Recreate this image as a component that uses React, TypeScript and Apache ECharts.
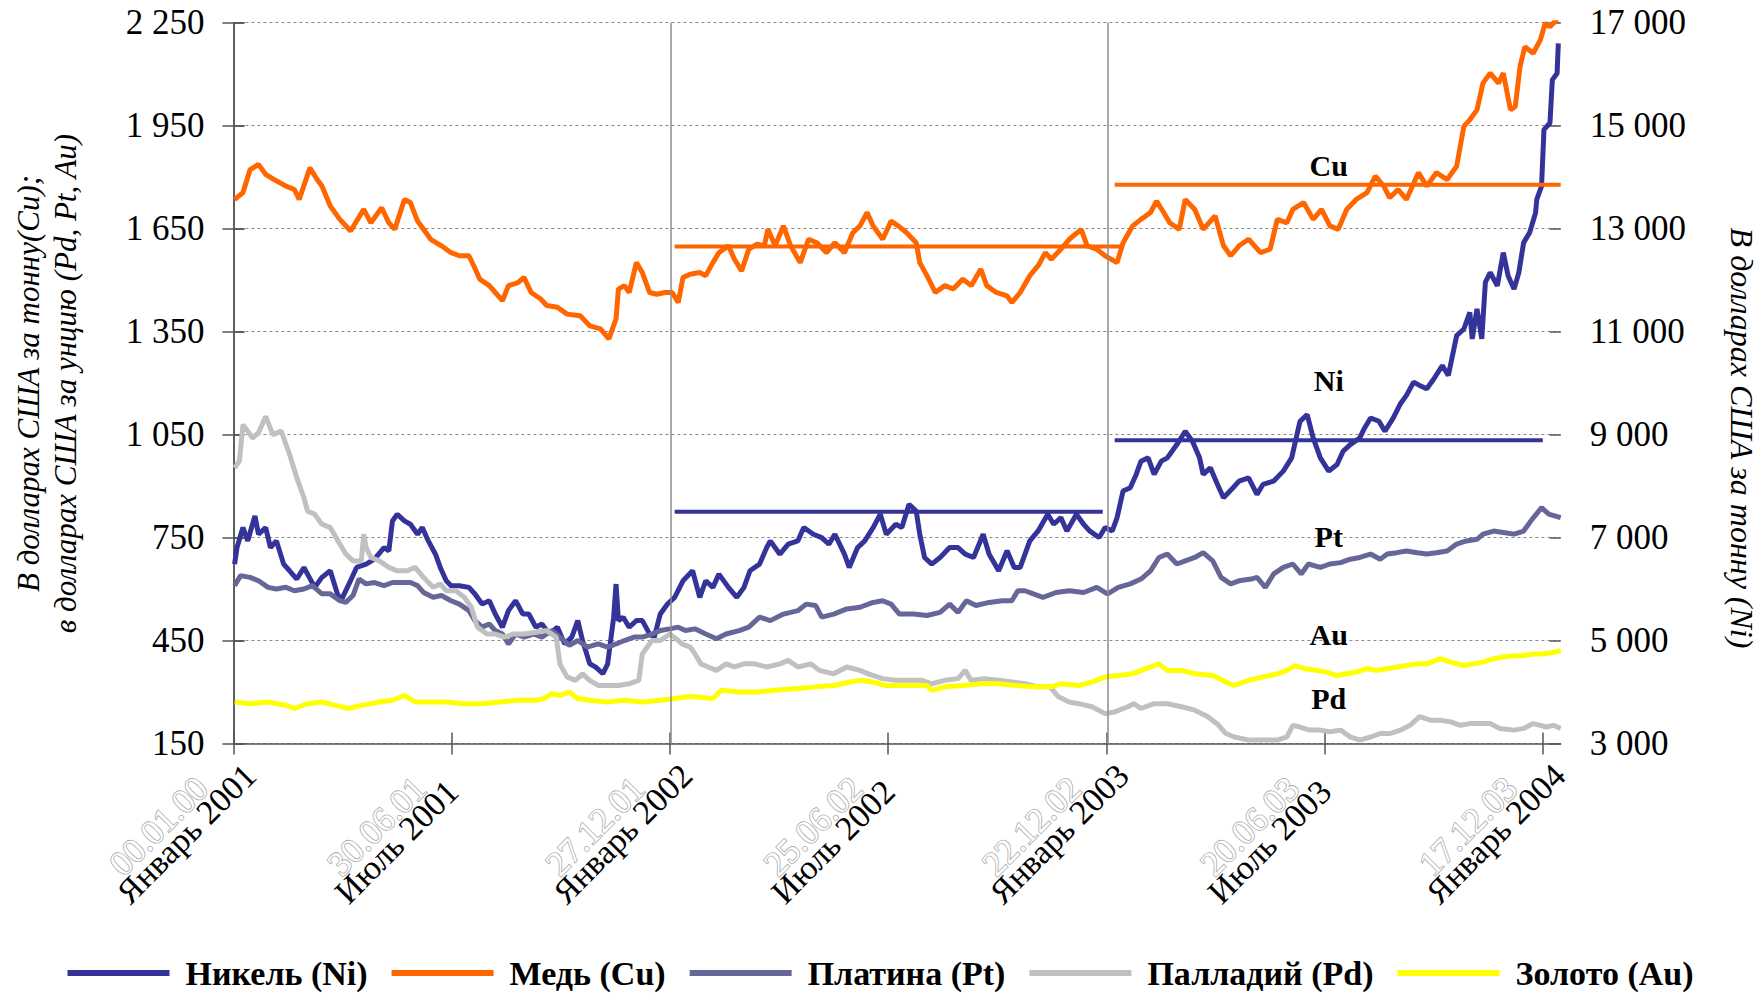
import React, { useEffect, useRef } from 'react';
import * as echarts from 'echarts';

// x = days since 1 Jan 2001
const tickDays = [0, 182.5, 365, 547.5, 730, 912.5, 1095];
const tickLabels = ['Январь 2001', 'Июль 2001', 'Январь 2002', 'Июль 2002', 'Январь 2003', 'Июль 2003', 'Январь 2004'];
const excelDateLabels = ['00.01.00', '30.06.01', '27.12.01', '25.06.02', '22.12.02', '20.06.03', '17.12.03'];
const yearBoundaryDays = [366, 731];
const leftTicks = [150, 2250, 300];
const rightTicks = [3000, 17000, 2000];

const nickel: [number, number][] = [[1,6484],[3,6806],[8,7194],[12,6935],[18,7419],[21,7065],[27,7194],[31,6806],[36,6935],[42,6484],[47,6355],[53,6194],[59,6419],[62,6290],[68,6032],[74,6226],[81,6355],[87,5903],[90,5774],[96,6065],[103,6419],[111,6484],[118,6581],[126,6806],[130,6742],[133,7323],[137,7452],[143,7323],[148,7258],[154,7065],[158,7194],[163,6935],[169,6677],[173,6419],[178,6161],[182,6065],[189,6065],[197,6032],[202,5903],[208,5710],[214,5774],[219,5516],[225,5258],[230,5581],[236,5774],[242,5516],[247,5516],[253,5258],[258,5323],[264,5129],[271,5258],[277,4935],[283,5065],[288,5387],[292,4994],[298,4548],[303,4484],[309,4355],[313,4548],[318,5452],[320,6097],[322,5387],[326,5452],[331,5258],[337,5387],[342,5387],[348,5129],[352,5065],[357,5516],[363,5710],[369,5839],[376,6161],[384,6355],[390,5839],[395,6161],[401,6032],[406,6290],[414,6032],[421,5839],[427,6032],[432,6355],[440,6484],[446,6806],[449,6935],[457,6677],[464,6871],[472,6935],[477,7194],[485,7065],[492,7000],[498,6871],[503,7065],[511,6677],[515,6419],[522,6806],[528,6935],[535,7194],[541,7452],[546,7065],[554,7258],[559,7194],[565,7645],[571,7516],[574,7065],[578,6613],[584,6484],[591,6613],[599,6806],[606,6806],[612,6677],[619,6613],[627,7065],[632,6677],[640,6355],[647,6742],[653,6419],[658,6419],[666,6935],[673,7129],[681,7452],[686,7258],[692,7387],[697,7129],[705,7452],[711,7258],[716,7129],[724,7000],[729,7194],[735,7129],[739,7387],[744,7903],[750,7968],[755,8226],[759,8484],[765,8548],[770,8226],[776,8484],[781,8548],[789,8806],[796,9065],[802,8871],[808,8548],[811,8226],[817,8355],[823,8032],[828,7774],[836,7968],[841,8097],[849,8161],[856,7839],[861,8032],[870,8097],[878,8290],[885,8548],[892,9258],[898,9387],[903,8935],[909,8548],[916,8290],[923,8419],[928,8677],[934,8806],[942,8935],[946,9129],[951,9323],[958,9258],[963,9065],[970,9323],[976,9600],[981,9761],[987,10019],[992,9955],[998,9890],[1004,10084],[1011,10342],[1016,10148],[1023,10922],[1029,11051],[1034,11374],[1036,10858],[1040,11439],[1044,10858],[1047,11955],[1051,12148],[1057,11890],[1062,12535],[1066,12084],[1071,11826],[1075,12148],[1079,12729],[1084,12922],[1089,13310],[1090,13568],[1094,13826],[1096,14922],[1101,15051],[1103,15890],[1107,16019],[1108,16600]];

const copper: [number, number][] = [[1,1735],[8,1755],[14,1822],[21,1837],[27,1808],[34,1793],[44,1774],[51,1764],[55,1735],[64,1827],[70,1793],[74,1774],[81,1716],[89,1677],[98,1643],[103,1672],[109,1706],[115,1667],[124,1711],[130,1667],[135,1648],[143,1735],[148,1726],[154,1672],[159,1648],[165,1619],[174,1600],[182,1580],[189,1571],[197,1571],[201,1542],[206,1503],[214,1484],[219,1464],[225,1440],[230,1484],[238,1493],[243,1508],[249,1464],[257,1445],[262,1426],[271,1421],[279,1401],[290,1396],[298,1367],[307,1358],[314,1329],[320,1387],[322,1474],[327,1484],[331,1464],[337,1551],[342,1522],[348,1464],[354,1459],[361,1464],[367,1464],[372,1435],[376,1508],[382,1517],[390,1522],[395,1513],[401,1551],[406,1580],[414,1600],[419,1561],[425,1527],[431,1590],[438,1605],[444,1600],[447,1648],[453,1600],[460,1658],[466,1600],[474,1551],[481,1619],[488,1609],[496,1580],[503,1609],[511,1580],[518,1638],[524,1658],[530,1697],[535,1658],[543,1619],[550,1672],[556,1658],[563,1638],[571,1609],[574,1551],[580,1513],[587,1464],[595,1484],[602,1474],[610,1503],[617,1484],[625,1532],[630,1484],[638,1464],[647,1454],[651,1435],[658,1464],[666,1513],[673,1542],[679,1580],[684,1561],[692,1590],[699,1619],[709,1648],[714,1600],[722,1590],[729,1571],[739,1551],[744,1609],[752,1658],[759,1677],[767,1697],[772,1730],[778,1697],[783,1667],[791,1648],[796,1735],[804,1706],[811,1648],[821,1687],[828,1600],[834,1571],[841,1600],[849,1619],[859,1580],[867,1590],[873,1677],[881,1667],[886,1706],[895,1726],[903,1677],[910,1706],[917,1658],[924,1648],[931,1706],[939,1735],[948,1755],[955,1803],[962,1774],[967,1740],[974,1764],[981,1735],[991,1813],[998,1774],[1006,1813],[1015,1793],[1023,1832],[1029,1948],[1034,1967],[1040,1996],[1045,2074],[1051,2103],[1058,2074],[1062,2103],[1068,1996],[1072,2006],[1076,2122],[1080,2180],[1087,2161],[1093,2200],[1097,2248],[1101,2238],[1107,2260]];

const platinum: [number, number][] = [[1,610],[6,639],[14,634],[21,624],[29,605],[36,600],[44,605],[51,595],[59,600],[66,610],[74,586],[81,586],[89,566],[94,561],[100,581],[105,629],[111,615],[118,619],[126,610],[133,619],[141,619],[148,619],[154,610],[159,590],[167,576],[174,581],[182,566],[189,556],[197,537],[202,508],[208,489],[214,498],[219,479],[225,469],[230,440],[236,469],[243,460],[251,469],[258,460],[266,479],[273,460],[281,436],[288,450],[296,431],[305,440],[313,431],[320,440],[327,450],[335,460],[342,460],[350,469],[357,479],[365,484],[372,489],[378,479],[386,484],[395,469],[404,455],[412,469],[423,479],[431,489],[440,518],[449,508],[460,527],[472,537],[479,556],[487,552],[492,518],[502,527],[513,542],[524,547],[535,561],[543,566],[550,556],[557,527],[569,527],[580,523],[591,532],[599,556],[606,532],[613,566],[621,552],[632,561],[643,566],[651,566],[656,595],[662,595],[669,586],[677,576],[688,590],[699,595],[711,590],[722,605],[731,586],[740,605],[750,615],[759,629],[767,653],[774,692],[781,702],[789,673],[796,682],[804,692],[811,706],[819,682],[826,634],[834,615],[841,624],[851,629],[856,634],[863,605],[870,644],[878,663],[886,673],[893,644],[899,673],[909,663],[917,673],[926,677],[934,687],[942,692],[951,702],[959,687],[965,702],[973,706],[981,711],[990,706],[998,702],[1006,706],[1015,711],[1023,731],[1031,740],[1040,745],[1045,760],[1054,769],[1062,765],[1071,760],[1079,769],[1086,803],[1094,837],[1100,818],[1105,813],[1110,808]];

const palladium: [number, number][] = [[1,953],[5,973],[8,1079],[12,1060],[16,1040],[21,1055],[27,1103],[33,1050],[40,1060],[47,992],[53,924],[59,866],[62,827],[68,818],[74,789],[81,779],[89,731],[94,702],[100,682],[107,682],[109,760],[111,721],[115,692],[122,682],[130,663],[137,653],[145,653],[152,663],[159,634],[167,605],[173,615],[178,595],[186,595],[193,576],[199,547],[204,489],[212,469],[219,469],[227,460],[234,469],[243,469],[253,474],[262,479],[270,460],[273,382],[279,344],[286,334],[292,353],[298,334],[305,319],[313,319],[322,319],[331,324],[339,334],[342,411],[350,450],[357,450],[365,469],[372,450],[375,440],[382,431],[386,411],[391,382],[397,373],[404,363],[412,382],[419,373],[427,382],[436,382],[446,373],[457,382],[464,392],[472,373],[483,382],[490,363],[502,353],[513,373],[524,363],[531,353],[543,339],[554,334],[565,334],[576,334],[584,324],[595,334],[606,339],[612,363],[617,334],[628,339],[640,334],[651,329],[662,324],[673,315],[683,315],[690,286],[699,271],[707,266],[718,257],[729,237],[737,242],[748,257],[753,266],[759,252],[770,266],[781,266],[793,257],[804,247],[815,228],[824,203],[830,179],[837,169],[849,160],[861,160],[873,160],[881,169],[886,203],[892,198],[900,189],[909,189],[917,184],[926,189],[934,169],[942,160],[951,169],[959,179],[967,179],[976,189],[984,203],[992,228],[1001,218],[1009,218],[1018,213],[1026,203],[1034,208],[1043,208],[1051,208],[1059,194],[1071,189],[1079,194],[1087,208],[1093,203],[1098,198],[1104,203],[1110,194]];

const gold: [number, number][] = [[1,271],[14,266],[29,271],[44,261],[51,252],[62,266],[74,271],[85,261],[96,252],[107,261],[122,271],[133,276],[143,290],[152,271],[167,271],[178,271],[193,266],[208,266],[223,271],[238,276],[253,276],[260,281],[266,295],[273,290],[281,300],[288,281],[298,276],[313,271],[327,276],[342,271],[357,276],[369,281],[380,286],[386,286],[401,281],[408,305],[423,300],[438,300],[453,305],[472,310],[487,315],[502,319],[516,329],[524,334],[535,329],[546,319],[557,319],[569,319],[580,319],[584,305],[595,315],[610,319],[625,324],[640,324],[655,319],[669,315],[684,315],[692,324],[707,319],[718,329],[729,344],[740,348],[752,353],[763,368],[774,382],[781,363],[793,363],[804,353],[819,348],[830,329],[837,319],[849,334],[861,344],[873,353],[881,363],[888,377],[896,368],[906,363],[914,358],[923,348],[931,353],[939,358],[948,368],[956,363],[965,368],[973,373],[981,377],[990,382],[998,382],[1009,397],[1018,387],[1029,377],[1037,382],[1045,387],[1054,397],[1062,402],[1071,406],[1079,406],[1087,411],[1096,411],[1104,416],[1110,421]];

// yearly average levels (horizontal segments)
const cuMean2002: [number, number][] = [[369, 1598], [742, 1598]];
const cuMean2003: [number, number][] = [[737, 1778], [1110, 1778]];
const niMean2002: [number, number][] = [[369, 7503], [727, 7503]];
const niMean2003: [number, number][] = [[737, 8890], [1095, 8890]];

// in-chart series tags: [text, day, value, yAxisIndex]
const seriesTags: [string, number, number, number][] = [
  ['Cu', 916, 1835, 0],
  ['Ni', 916, 10045, 1],
  ['Pt', 916, 752, 0],
  ['Au', 916, 467, 0],
  ['Pd', 916, 280, 0],
];

const names = ['Никель (Ni)', 'Медь (Cu)', 'Платина (Pt)', 'Палладий (Pd)', 'Золото (Au)'];
const colors = ['#333399', '#FF6600', '#666699', '#C0C0C0', '#FFFF00'];

const FONT = "'Liberation Serif', 'Times New Roman', serif";

const fmt = (v: number) => {
  if (v >= 1000) {
    const t = Math.floor(v / 1000);
    const r = String(v % 1000).padStart(3, '0');
    return `${t} ${r}`;
  }
  return String(v);
};

export default function App() {
  const ref = useRef<HTMLDivElement>(null);
  useEffect(() => {
    if (!ref.current) return;
    const chart = echarts.init(ref.current, null, { renderer: 'svg' });
    const axisColor = '#555555';
    const line = (name: string, data: [number, number][], color: string, yAxisIndex: number, width = 5, extra: any = {}) => ({
      type: 'line',
      name,
      data,
      yAxisIndex,
      xAxisIndex: 0,
      symbol: 'none',
      showSymbol: false,
      silent: true,
      lineStyle: { color, width },
      itemStyle: { color },
      emphasis: { disabled: true },
      ...extra,
    });
    const yBase = (pos: 'left' | 'right', t: number[], inside: boolean) => ({
      type: 'value',
      position: pos,
      min: t[0],
      max: t[1],
      interval: t[2],
      axisLine: { show: !inside, lineStyle: { color: axisColor, width: 1.5 } },
      axisTick: { show: true, inside, length: 11, lineStyle: { color: axisColor, width: 1.5 } },
      axisLabel: inside
        ? { show: false }
        : { show: true, formatter: (v: number) => fmt(v), fontFamily: FONT, fontSize: 35, color: '#000', margin: 29, padding: [10, 0, 0, 0] },
      splitLine: { show: false },
    });
    const yLeft: any = yBase('left', leftTicks, false);
    yLeft.splitLine = { show: true, lineStyle: { color: '#8a8a8a', width: 1, type: [3, 3] } };
    const xBase = (inside: boolean) => ({
      type: 'value',
      position: 'bottom',
      min: 0,
      max: 1110,
      axisLine: { show: !inside, lineStyle: { color: axisColor, width: 1.5 } },
      axisTick: { show: true, inside, length: 11, customValues: tickDays, lineStyle: { color: axisColor, width: 1.5 } },
      axisLabel: { show: false },
      splitLine: { show: false },
    });

    chart.setOption({
      animation: false,
      textStyle: { fontFamily: FONT },
      grid: { left: 233.4, right: 200.3, top: 22.7, bottom: 249.5, containLabel: false },
      xAxis: [xBase(false), xBase(true)],
      yAxis: [yLeft, yBase('right', rightTicks, false), yBase('left', leftTicks, true), yBase('right', rightTicks, true)],
      legend: {
        data: names,
        left: 'center',
        top: 950,
        icon: 'rect',
        itemWidth: 102,
        itemHeight: 6,
        itemGap: 24,
        selectedMode: false,
        textStyle: { fontFamily: FONT, fontWeight: 'bold', fontSize: 34, lineHeight: 36, color: '#000', padding: [0, 0, 0, 11] },
      },
      series: [
        line(names[0], nickel, colors[0], 1, 5, {
          markLine: {
            silent: true,
            symbol: ['none', 'none'],
            label: { show: false },
            lineStyle: { color: '#8c8c8c', width: 1.5, type: 'solid' },
            data: yearBoundaryDays.map((d) => ({ xAxis: d })),
          },
        }),
        line(names[1], copper, colors[1], 0),
        line(names[2], platinum, colors[2], 0),
        line(names[3], palladium, colors[3], 0),
        line(names[4], gold, colors[4], 0),
        line('cuMean2002', cuMean2002, colors[1], 0, 4),
        line('cuMean2003', cuMean2003, colors[1], 0, 4),
        line('niMean2002', niMean2002, colors[0], 1, 4),
        line('niMean2003', niMean2003, colors[0], 1, 4),
      ],
    });

    const axisY = chart.convertToPixel({ yAxisIndex: 0 }, 150) as number;
    const graphics: any[] = [];
    tickDays.forEach((d, i) => {
      const x = chart.convertToPixel({ xAxisIndex: 0 }, d) as number;
      graphics.push({
        type: 'text', x: x - 118, y: axisY + 126, rotation: Math.PI / 4, silent: true,
        style: { text: excelDateLabels[i], fontFamily: FONT, fontSize: 35, fill: '#ffffff', stroke: '#a8a8a8', lineWidth: 1.6, align: 'left', verticalAlign: 'middle' },
      });
    });
    tickDays.forEach((d, i) => {
      const x = chart.convertToPixel({ xAxisIndex: 0 }, d) as number;
      graphics.push({
        type: 'text', x: x - 111, y: axisY + 154, rotation: Math.PI / 4, silent: true,
        style: { text: tickLabels[i], fontFamily: FONT, fontSize: 34, fill: '#000', align: 'left', verticalAlign: 'middle' },
      });
    });
    seriesTags.forEach(([t, d, v, yi]) => {
      const [x, y] = chart.convertToPixel({ xAxisIndex: 0, yAxisIndex: yi }, [d, v]) as number[];
      graphics.push({
        type: 'text', x, y, silent: true,
        style: { text: t, fontFamily: FONT, fontWeight: 'bold', fontSize: 30, fill: '#000', align: 'center', verticalAlign: 'middle' },
      });
    });
    graphics.push({
      type: 'text', x: 46.5, y: 383.5, rotation: Math.PI / 2, silent: true,
      style: {
        text: 'В долларах США за тонну(Cu);\nв долларах США за унцию (Pd, Pt, Au)',
        fontFamily: FONT, fontStyle: 'italic', fontSize: 31, lineHeight: 37, fill: '#000', align: 'center', verticalAlign: 'middle',
      },
    });
    graphics.push({
      type: 'text', x: 1742, y: 438, rotation: -Math.PI / 2, silent: true,
      style: {
        text: 'В долларах США за тонну (Ni)',
        fontFamily: FONT, fontStyle: 'italic', fontSize: 32, fill: '#000', align: 'center', verticalAlign: 'middle',
      },
    });
    chart.setOption({ graphic: graphics });

    return () => chart.dispose();
  }, []);
  return <div ref={ref} style={{ position: 'fixed', left: 0, top: 0, width: 1761, height: 993, background: '#fff' }} />;
}
